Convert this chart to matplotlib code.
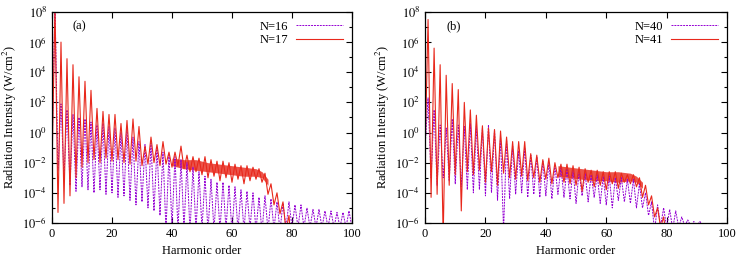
import numpy as np
import matplotlib
matplotlib.use('Agg')
import matplotlib.pyplot as plt
from matplotlib.ticker import FixedLocator, FuncFormatter, NullFormatter

plt.rcParams['font.family'] = ['Liberation Serif', 'DejaVu Serif']
plt.rcParams['mathtext.fontset'] = 'stix'
plt.rcParams['font.size'] = 8.5

# harmonic orders: peaks on odd orders, troughs on even orders
odd_orders = list(range(1, 100, 2))
even_orders = list(range(0, 101, 2))

# panel (a), log10 of intensity
a16_peaks = [8.5, 1.9, 1.5, 1.2, 1.0, 0.9, 0.7, 0.5, 0.6, 0.4,
             0.3, 0.0, 0.2, -0.3, -0.6, -0.8, -0.7, -1.0, -1.3, -1.4,
             -1.6, -1.8, -2.0, -2.3, -2.6, -2.9, -3.1, -3.3, -3.3, -3.5,
             -3.6, -3.8, -3.9, -4.0, -4.3, -4.2, -4.4, -4.6, -4.7, -4.6,
             -4.8, -4.8, -5.0, -5.1, -5.1, -5.2, -5.2, -5.3, -5.3, -5.2]
a16_troughs = [-1.5, -2.5, -3.0, -3.5, -3.9, -3.6, -3.8, -4.0, -3.8, -4.1,
               -4.0, -4.3, -4.2, -4.5, -4.8, -4.6, -5.0, -5.2, -5.5, -6.5,
               -6.3, -6.5, -6.4, -6.6, -6.5, -6.4, -6.6, -6.5, -6.5, -6.4,
               -6.6, -6.5, -6.5, -6.4, -6.5, -6.6, -6.5, -6.4, -6.5, -6.3,
               -6.3, -6.3, -6.3, -6.3, -6.3, -6.3, -6.3, -6.3, -6.3, -6.3,
               -6.3]
a17_peaks = [8.5, 6.0, 4.9, 4.5, 3.7, 3.4, 2.8, 1.6, 1.4, 1.2,
             1.2, 0.6, 0.8, 0.9, 0.4, -0.9, -0.3, -0.8, -0.6, -1.3,
             -1.3, -0.9, -1.5, -1.6, -1.7, -1.6, -1.8, -1.9, -1.9, -2.0,
             -2.1, -2.2, -2.2, -2.3, -2.4, -2.7, -3.4, -4.0, -4.6, -5.5,
             -8, -8, -8, -8, -8, -8, -8, -8, -8, -8]
a17_troughs = [-2.5, -5.3, -4.7, -4.2, -3.0, -2.3, -2.0, -1.8, -2.0, -1.7,
               -1.9, -1.8, -2.0, -2.1, -1.9, -2.2, -2.1, -2.0, -2.2, -2.1,
               -2.3, -2.2, -2.4, -2.6, -2.6, -2.8, -3.0, -2.9, -3.2, -3.0,
               -3.3, -3.1, -3.4, -3.2, -3.1, -3.3, -4.1, -4.8, -5.4, -6.5,
               -8, -8, -8, -8, -8, -8, -8, -8, -8, -8, -8]
a17_band_x = [40, 44, 48, 52, 56, 60, 64, 68, 70, 72]
a17_band_hi = [-1.7, -1.8, -1.8, -2.0, -2.1, -2.2, -2.3, -2.4, -2.6, -3.1]
a17_band_lo = [-2.2, -2.4, -2.5, -2.6, -2.7, -2.8, -2.9, -2.9, -3.0, -3.5]

# panel (b)
b40_peaks = [2.3, 1.5, 0.5, 0.3, 0.9, 0.5, 0.4, 0.6, 0.4, 0.3,
             0.5, 0.2, -0.3, -0.5, -0.9, -1.2, -1.0, -1.5, -1.6, -1.9,
             -2.0, -2.2, -2.3, -2.4, -2.5, -2.6, -2.7, -2.8, -2.8, -2.9,
             -2.9, -3.0, -3.0, -3.1, -3.1, -3.4, -4.0, -4.6, -4.8, -5.0,
             -5.1, -5.2, -5.6, -5.8, -5.9, -5.9, -6.1, -7, -7, -7]
b40_troughs = [-1.0, -3.0, -3.5, -3.0, -3.2, -3.4, -3.6, -3.8, -4.0, -3.8,
               -4.2, -4.0, -4.5, -6.5, -4.4, -4.1, -4.0, -4.3, -4.1, -4.3,
               -4.2, -4.4, -4.1, -4.3, -4.4, -4.7, -4.2, -4.6, -4.3, -4.7,
               -4.8, -5.0, -4.5, -4.6, -4.7, -5.0, -5.0, -5.5, -6.5, -6.2,
               -6.3, -6.4, -6.3, -6.2, -6.2, -6.2, -6.2, -7, -7, -7, -7]
b41_peaks = [7.5, 5.6, 4.5, 3.8, 3.25, 2.85, 2.0, 1.5, 1.15, 0.45,
             0.3, 0.2, 0.1, -0.3, -0.6, -0.6, -0.6, -1.4, -1.5, -1.8,
             -1.7, -2.0, -2.1, -2.1, -2.2, -2.3, -2.4, -2.5, -2.5, -2.6,
             -2.6, -2.6, -2.7, -2.8, -2.8, -3.0, -3.5, -4.2, -5.0, -5.6,
             -6.5, -8, -8, -8, -8, -8, -8, -8, -8, -8]
b41_troughs = [-1.5, -4.3, -4.1, -7, -3.5, -2.8, -5.2, -2.6, -2.8, -2.5,
               -3.3, -2.6, -3.5, -2.7, -3.0, -3.1, -2.9, -3.2, -3.0, -3.3,
               -3.1, -3.4, -3.0, -3.3, -3.4, -3.5, -3.9, -3.3, -3.6, -3.5,
               -3.8, -3.4, -3.7, -3.3, -3.4, -3.6, -4.3, -4.8, -5.6, -6.3,
               -7, -8, -8, -8, -8, -8, -8, -8, -8, -8, -8]
b41_band_x = [44, 48, 52, 56, 60, 64, 68, 70, 72]
b41_band_hi = [-2.2, -2.3, -2.4, -2.5, -2.6, -2.6, -2.7, -2.9, -3.3]
b41_band_lo = [-2.9, -3.0, -3.1, -3.2, -3.2, -3.3, -3.2, -3.3, -3.7]

purple = '#9400d3'
red = '#e8281c'


def merge(peaks, troughs):
    pts = sorted(list(zip(odd_orders, peaks)) + list(zip(even_orders, troughs)))
    x = np.array([p[0] for p in pts], dtype=float)
    y = 10.0 ** np.array([p[1] for p in pts])
    return x, y


def log_label(v, pos):
    return r'$10^{%d}$' % int(round(np.log10(v)))


def draw(ax, tag, lab_p, lab_r, p_pk, p_tr, r_pk, r_tr, bx, bhi, blo):
    x, y = merge(p_pk, p_tr)
    ax.plot(x, y, color=purple, lw=0.7, ls=(0, (2, 1)), label=lab_p)
    ax.fill_between(bx, 10.0 ** np.array(blo), 10.0 ** np.array(bhi),
                    color=red, lw=0, alpha=0.8)
    x, y = merge(r_pk, r_tr)
    ax.plot(x, y, color=red, lw=0.8, label=lab_r)

    ax.set_yscale('log')
    ax.set_xlim(0, 100)
    ax.set_ylim(1e-6, 1e8)
    ax.xaxis.set_major_locator(FixedLocator([0, 20, 40, 60, 80, 100]))
    ax.yaxis.set_major_locator(FixedLocator([10.0 ** k for k in range(-6, 9, 2)]))
    ax.yaxis.set_minor_locator(FixedLocator([10.0 ** k for k in range(-5, 8, 2)]))
    ax.yaxis.set_major_formatter(FuncFormatter(log_label))
    ax.yaxis.set_minor_formatter(NullFormatter())
    ax.tick_params(which='both', direction='in', top=True, right=True,
                   labelsize=9, width=0.8)
    ax.tick_params(which='major', length=4)
    ax.tick_params(which='minor', length=2)
    for s in ax.spines.values():
        s.set_linewidth(0.9)
    ax.set_xlabel('Harmonic order', fontsize=9, labelpad=4)
    ax.set_ylabel(r'Radiation Intensity (W/cm$^2$)', fontsize=9, labelpad=2)
    ax.text(0.07, 0.93, tag, transform=ax.transAxes, fontsize=9, va='center')
    ax.legend(loc='upper right', frameon=False, markerfirst=False,
              handlelength=3.8, fontsize=9, borderaxespad=0.3,
              labelspacing=0.1, handletextpad=0.6)


fig = plt.figure(figsize=(7.47, 2.62), dpi=100)
ax1 = fig.add_axes([0.0696, 0.149, 0.4016, 0.8053])
ax2 = fig.add_axes([0.569, 0.149, 0.4043, 0.8053])

draw(ax1, '(a)', 'N=16', 'N=17', a16_peaks, a16_troughs, a17_peaks, a17_troughs,
     a17_band_x, a17_band_hi, a17_band_lo)
draw(ax2, '(b)', 'N=40', 'N=41', b40_peaks, b40_troughs, b41_peaks, b41_troughs,
     b41_band_x, b41_band_hi, b41_band_lo)

fig.savefig('out.png', dpi=100)
